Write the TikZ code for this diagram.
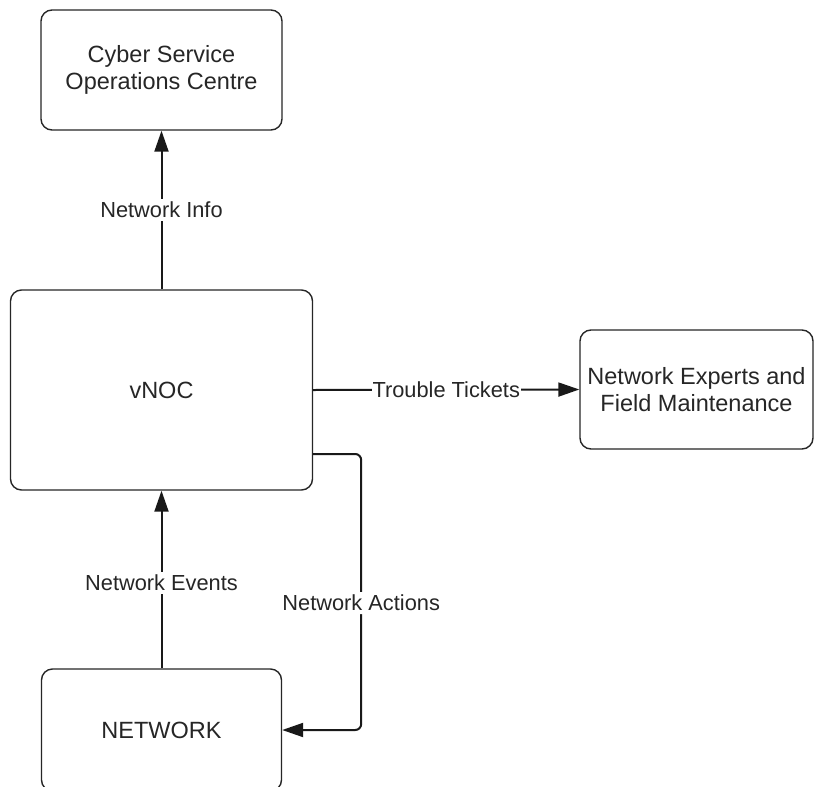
\documentclass[tikz,border=0pt]{standalone}
\usepackage{fontspec}
\setmainfont{Liberation Sans}
\usetikzlibrary{arrows.meta}
\begin{document}
\begin{tikzpicture}[x=1pt, y=-1pt,
  box/.style={draw=black!85, line width=1.4pt, rounded corners=11pt, fill=white,
    align=center, inner sep=0pt, text=black!85,
    font=\fontsize{23.5}{26.5}\selectfont},
  conn/.style={draw=black!90, line width=2pt, -{Triangle[length=21pt,width=14pt]}},
  lbl/.style={fill=white, inner sep=3pt, text=black!85,
    font=\fontsize{21.8}{24}\selectfont}]
  \useasboundingbox (0,0) rectangle (814,787);

  % boxes
  \node[box, minimum width=241pt, minimum height=120pt] (csoc) at (161.5,70)
    {Cyber Service\\Operations Centre};
  \node[box, minimum width=302pt, minimum height=200pt] (vnoc) at (161.5,390) {vNOC};
  \node[box, minimum width=233pt, minimum height=119pt] (nef) at (696.5,389.5)
    {Network Experts and\\Field Maintenance};
  \node[box, minimum width=240pt, minimum height=122pt] (net) at (161.5,730) {NETWORK};

  % connectors
  \draw[conn] (vnoc.north) -- node[lbl] {Network Info} (csoc.south);
  \draw[conn] (vnoc.east) -- node[lbl, inner xsep=1pt] {Trouble Tickets} (nef.west);
  \draw[conn] (net.north) -- node[lbl, pos=0.48] {Network Events} (vnoc.south);
  \draw[conn, rounded corners=6pt] ([yshift=-64pt]vnoc.east) -- ++(48pt,0)
    |- node[lbl, pos=0.27] {Network Actions} (net.east);
\end{tikzpicture}
\end{document}
